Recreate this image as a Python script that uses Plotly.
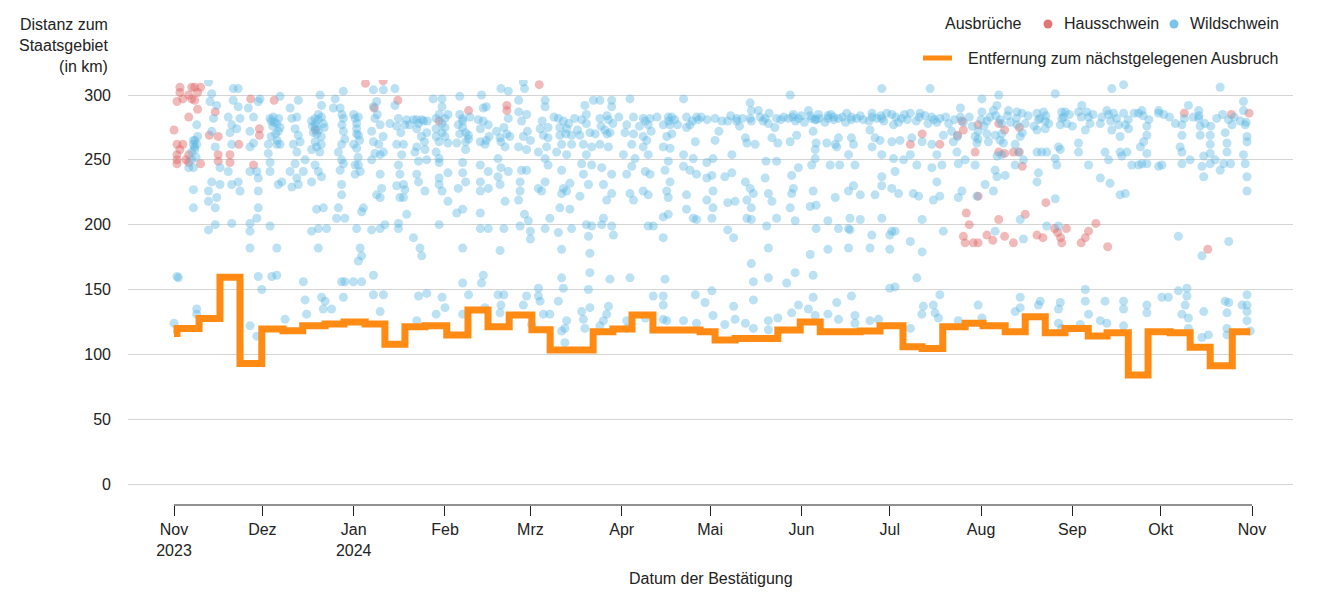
import pandas as pd
import plotly.graph_objects as go

START = pd.Timestamp("2023-11-01")

# x-axis ticks
tick_dates = ["2023-11-01", "2023-12-01", "2024-01-01", "2024-02-01", "2024-03-01", "2024-04-01",
              "2024-05-01", "2024-06-01", "2024-07-01", "2024-08-01", "2024-09-01", "2024-10-01", "2024-11-01"]
tick_text = ["Nov<br>2023", "Dez", "Jan<br>2024", "Feb", "Mrz", "Apr", "Mai", "Jun", "Jul", "Aug", "Sep", "Okt", "Nov"]
y_ticks = [0, 50, 100, 150, 200, 250, 300]

# distance to nearest outbreak (step line); days after 2023-11-01, km
line_day = [0, 1, 8.5, 15.6, 22.4, 29.8, 37, 43.7, 51.3, 57.7, 64.9, 71.6, 78.4, 85.2, 92.6, 99.8, 106.6,
            113.8, 121.5, 127.7, 142.3, 149, 155.5, 162.6, 178.6, 183.7, 190.5, 205, 212.6, 219.4, 233,
            239.7, 247.5, 254, 261, 268.6, 274.7, 282.2, 289, 295.8, 302.5, 310.4, 316.8, 324, 330.7,
            338.2, 345, 351.8, 359.3, 365.4]
line_km = [116, 120, 127.7, 159.4, 93, 119.5, 118.2, 122, 123.4, 125, 123.4, 107.7, 121.3, 122, 114.9,
           134.2, 121.3, 130.3, 119, 103.3, 117.4, 119.5, 130.3, 118.7, 117.4, 111, 112.3, 118.7, 125,
           117.4, 118, 122, 105.9, 104.6, 121.3, 123.9, 122, 117.4, 129, 116.7, 120, 114.1, 116.7, 84,
           117.4, 116.7, 105.4, 91.2, 117.4, 117.4]

# domestic pig outbreaks (day, km)
haus_points = [
    (2, 306), (6, 306), (7, 306), (9, 306), (1, 295), (3, 297), (6, 297), (7, 296), (5, 300), (2, 302), (8, 302),
    (5, 283), (8, 289), (14, 287), (0, 273), (12, 269), (15, 268), (29, 274), (29, 269), (1, 262), (3, 262),
    (22, 262), (1, 254), (5, 254), (15, 254), (19, 254), (1, 247), (5, 248), (9, 247), (15, 249), (19, 248),
    (27, 246), (1, 250), (2, 258), (4, 250), (26, 297), (34, 296), (65, 309), (71, 311), (76, 296), (68, 290),
    (48, 273), (90, 280), (100, 288), (113, 292), (113, 288), (124, 308),
    (254, 270), (250, 262), (260, 262), (266, 269), (268, 273), (273, 277), (272, 256), (267.5, 280),
    (269, 209), (270, 200), (268, 191), (268.6, 186), (271.4, 186), (273, 186), (276, 192), (273, 222),
    (280, 278), (282, 273), (287, 275), (280, 256), (282, 255), (285, 256), (287, 256), (288, 245),
    (343, 286), (359, 285), (365, 286),
    (278, 188), (282, 191), (285, 186), (280, 204), (289, 208), (296, 217), (293, 192), (295, 190),
    (299, 197), (300, 194), (301, 190), (301.4, 186), (303, 197), (308, 186), (309.4, 190), (310.5, 195),
    (313, 201), (317, 183), (351, 181),
]

# wild boar outbreaks (day, km), by period
wild_nov_jan = [
    (1, 160), (1.5, 159), (0, 124),
    (6.6, 262), (7.7, 262), (6, 256), (7.1, 265), (7.7, 277), (6.6, 227), (6.6, 213), (7.7, 135), (7.7, 131),
    (5, 244), (6.6, 244), (7, 260), (7, 258), (6.6, 265), (7.5, 252), (8, 268), (6, 250),
    (11.7, 310), (12.8, 301), (12.2, 295), (14.5, 292), (13.4, 282), (12.8, 272), (14, 260), (15.6, 244),
    (15.6, 231), (11.7, 226), (11.7, 218), (14, 213), (14.5, 221), (12.8, 233), (11.7, 196), (14, 200),
    (18.4, 283), (19.6, 277), (21.3, 274), (19.6, 262), (19, 271), (18.4, 241), (19.6, 231), (21.8, 233),
    (22.4, 226), (19.6, 201), (20.1, 305), (21.8, 305), (20.1, 296), (21.8, 291), (22.4, 282),
    (25.2, 290), (27, 283), (25.8, 272), (27, 263), (28.6, 295), (29.2, 297), (28.1, 241), (28.6, 236),
    (28.6, 226), (28.6, 213), (25.8, 201), (25.8, 195), (28.1, 205), (25.8, 182), (28.6, 160), (29.8, 150),
    (25.8, 122), (28.1, 114), (25.8, 241), (25.8, 260),
    (32.6, 282), (33.7, 283), (34.9, 278), (35.4, 272), (34.9, 262), (36, 262), (32, 262), (32.6, 248),
    (32.6, 241), (32, 255), (32.6, 199), (36, 299), (35.4, 231), (36.6, 233), (34.9, 182), (33.2, 160),
    (34.9, 161), (33, 280), (34, 279), (35, 265), (33.5, 276), (34.5, 270), (36, 275), (33, 268), (35.5, 282),
    (39.4, 290), (40, 282), (41.1, 274), (41.7, 283), (42.2, 296), (42.2, 269), (42.8, 264), (40.5, 262),
    (41.7, 256), (41.1, 247), (41.7, 236), (42.2, 231), (40, 229), (43.9, 241), (44.5, 250), (39.4, 241),
    (43.9, 156), (44.5, 142), (45, 131), (37.7, 127),
    (46.7, 280), (47.9, 282), (49, 281), (50.1, 283), (50.7, 278), (49, 273), (47.3, 271), (47.9, 264),
    (46.7, 258), (48.4, 260), (49.6, 300), (50.1, 292), (47.9, 246), (49, 241), (46.7, 233), (50.1, 237),
    (48.4, 212), (50.7, 213), (46.7, 195), (49, 197), (51.8, 197), (49, 182), (50.1, 144), (50.7, 135),
    (53.5, 135), (51.3, 141), (48, 278), (48, 275), (49, 285), (50, 268),
    (47, 276), (48.5, 270), (50, 262), (51, 275), (49.5, 256),
    (54.1, 290), (56.4, 290), (57.5, 282), (57.5, 272), (56.9, 262), (55.8, 256), (56.9, 250), (57.5, 247),
    (56.4, 242), (56.9, 231), (56.9, 223), (55.8, 213), (55.2, 205), (58, 205), (54.7, 297), (57.5, 303),
    (56.9, 156), (58, 156), (57.5, 144), (57, 285), (57, 277), (58, 266),
    (61.5, 282), (62.6, 283), (62, 274), (62.6, 269), (62, 259), (61.5, 246), (62.6, 246), (63.2, 241),
    (61.5, 239), (64.3, 213), (63.7, 210), (62, 197), (63.2, 182), (63.7, 176), (62.6, 172), (60.9, 156),
    (63.7, 156), (67.7, 161), (62, 278), (62, 270), (61, 285), (63, 265), (62.5, 252), (61, 262),
    (67.7, 291), (68.8, 295), (68.2, 282), (67.1, 272), (67.7, 264), (68.2, 255), (67.1, 250), (70, 254),
    (70, 239), (71.1, 256), (70.5, 228), (68.8, 223), (70, 221), (67.1, 196), (70, 197), (71.6, 200),
    (67.7, 146), (71.1, 146), (70, 133), (67.7, 304), (71.1, 304), (69, 285), (70, 277), (71, 268), (69.5, 262),
    (75, 305), (75, 292), (76.2, 282), (73.3, 278), (75.6, 276), (78.4, 277), (75.6, 262), (77.9, 262),
    (77.3, 254), (76.2, 246), (76.7, 239), (77.9, 231), (75.6, 230), (78.4, 227), (76.7, 221), (77.9, 221),
    (76.2, 201), (76.2, 197), (79, 208), (77, 271), (79, 281), (80, 277),
    (81.3, 281), (82.4, 281), (84.1, 281), (84.7, 280), (82.4, 274), (85.8, 271), (82.4, 260), (81.8, 256),
    (85.2, 258), (83, 249), (85.8, 250), (82.4, 239), (83, 233), (85.2, 226), (81.3, 190), (83.5, 182),
    (84.1, 176), (83, 145), (85.8, 147), (82.4, 126), (83, 278), (84, 268), (86, 280), (85, 264),
]

wild_feb_apr = [
    (88, 297), (91, 297), (91, 291), (89, 282), (92, 282), (89, 274), (91, 271), (90, 264), (93, 263), (89, 256),
    (90, 251), (90, 248), (93, 240), (90, 236), (90, 231), (91, 226), (93, 218), (90, 200), (91, 144), (92, 136),
    (89, 131), (90, 285), (91, 278), (92, 268), (89, 268), (92, 275), (93, 285),
    (97, 299), (98, 282), (96.5, 277), (98, 280), (99, 271), (99, 264), (96, 263), (98, 248), (98, 240),
    (99, 233), (96.5, 228), (96, 209), (98, 212), (98, 182), (98, 155), (100, 146), (98, 131), (100.5, 283),
    (100, 269), (97, 285), (98, 275), (100, 266), (97, 270), (99, 258),
    (104.4, 300), (105, 290), (106, 291), (103.3, 281), (106.7, 277), (104, 274), (107, 268), (104, 264),
    (105.6, 262), (104, 246), (106.7, 241), (104, 233), (104, 226), (106.7, 228), (104, 209), (104, 197),
    (106.7, 197), (105, 161), (104.4, 155), (105.6, 136), (105, 280), (106, 265),
    (111, 305), (113.5, 303), (109.5, 272), (110.7, 267), (111, 264), (114, 268), (112.4, 260), (110, 251),
    (111, 244), (110, 237), (113.5, 241), (110.7, 231), (112.4, 218), (112, 197), (110.7, 180), (110, 146),
    (112, 146), (111, 138), (110.7, 132), (113.5, 282), (112, 275), (113, 270),
    (118.6, 310), (119, 305), (117, 296), (117, 287), (119.7, 285), (118.6, 268), (117, 260), (119.7, 258),
    (118, 242), (119.7, 242), (117.5, 233), (117.5, 226), (117, 219), (119, 208), (117.5, 199), (120.3, 203),
    (121, 195), (121, 189), (119.7, 145), (118.6, 138), (121.4, 123), (118, 280), (120, 272), (121, 265),
    (126, 296), (126, 291), (124.3, 274), (125.4, 269), (127, 267), (126.5, 260), (123.7, 256), (126, 251),
    (127, 246), (123.7, 228), (124.8, 226), (126, 233), (126, 197), (127.6, 205), (123.7, 151), (124.3, 141),
    (125.4, 131), (127.6, 131), (123.7, 145), (125, 280), (127, 275),
    (130.5, 282), (132.2, 280), (133.3, 274), (131, 269), (135, 269), (131.6, 262), (135, 262), (129.9, 256),
    (133.3, 254), (131.6, 242), (132.2, 228), (131.6, 224), (133.3, 226), (134.4, 232), (131, 213), (134.4, 212),
    (130.5, 194), (135, 197), (131.6, 181), (131.6, 159), (132.2, 151), (130.5, 141), (132.7, 120), (133.3, 126),
    (132.7, 109), (131.6, 118), (131, 275), (133, 270), (129, 283), (134, 278), (136, 282),
    (139.5, 292), (142.4, 296), (138.4, 281), (140, 278), (137.8, 269), (141.2, 271), (139, 262), (141.8, 260),
    (140, 254), (138.4, 247), (141.8, 246), (139, 239), (140.7, 231), (137.8, 222), (140, 200), (141.8, 199),
    (140.7, 191), (141.2, 178), (141.2, 163), (140.7, 150), (141.2, 136), (139, 127), (139.5, 120), (138.4, 133),
    (137, 273), (140, 285), (143, 270),
    (144.6, 296), (148.6, 296), (148.6, 291), (144.6, 282), (147.5, 281), (146.3, 273), (148, 271), (144.6, 262),
    (147.5, 260), (145.2, 244), (148.6, 239), (145.8, 231), (148.6, 224), (146.9, 219), (145.8, 205), (148.6, 199),
    (149.2, 192), (145.2, 200), (148, 158), (147.5, 137), (146.9, 131), (145.8, 126), (144.6, 122), (145, 276),
    (147, 270), (147, 284), (149, 278),
    (154.8, 297), (156, 283), (153.7, 277), (153.1, 271), (155.4, 262), (152.6, 254), (156.5, 251), (155.4, 245),
    (153.7, 239), (154.8, 224), (156, 219), (154.8, 159), (153.7, 126), (153.7, 120), (151, 283), (156, 270),
    (158, 276),
    (159.3, 282), (161.6, 282), (161, 277), (159.3, 268), (160.5, 265), (159.3, 260), (161, 254), (160, 241),
    (161.6, 239), (159.3, 226), (161, 223), (161, 199), (162.7, 199), (160, 128), (162.7, 145), (160, 280),
    (162, 272), (164, 283),
    (167.8, 283), (169, 283), (166.1, 277), (168.4, 277), (167.3, 268), (166.1, 260), (168.4, 259), (167.8, 249),
    (166.7, 242), (168.4, 233), (167.3, 226), (167.8, 221), (166.1, 206), (167.8, 208), (166.1, 190), (166.7, 158),
    (166.1, 145), (166.1, 138), (167.3, 126), (166.1, 127), (168, 280), (170, 281), (169, 270), (171, 277),
    (173, 297), (174, 283), (177.4, 283), (175.2, 277), (177, 264), (173, 254), (176.3, 251), (173, 245),
    (175.2, 242), (180.9, 248), (177.4, 239), (180.9, 236), (174, 223), (180.9, 219), (174, 212), (176.3, 205),
    (177.4, 204), (177, 146), (180.3, 140), (173, 126), (177.4, 124), (176, 280), (178, 281), (174, 275),
    (179, 283), (181, 281),
]

wild_may_jul = [
    (183.7, 282), (183.7, 265), (183, 251), (182.6, 238), (183, 226), (183, 213), (182.6, 205), (182.6, 149),
    (183, 130), (185, 272), (186, 280),
    (188, 280), (191, 282), (187, 237), (189.4, 240), (188, 217), (190.5, 218), (188, 196), (190, 190),
    (190, 137), (190.5, 127), (187, 123), (189.4, 254), (191, 280), (189, 284), (192, 276), (193, 282),
    (194, 267), (194.5, 263), (195.6, 282), (195.6, 294), (196, 288), (197.3, 262), (194, 233), (195.6, 228),
    (196.7, 224), (194.5, 219), (196, 213), (194.5, 205), (196, 204), (196, 170), (196.7, 156), (196.7, 142),
    (196.7, 120), (194, 124), (198.4, 288), (196, 280), (199, 283),
    (200.7, 282), (201.8, 278), (203, 267), (205, 263), (201, 249), (204.6, 249), (200.7, 236), (201.8, 224),
    (203, 218), (204.6, 205), (201.2, 199), (201.8, 182), (201.8, 159), (205, 128), (201.8, 126), (201.8, 119),
    (204.6, 282), (200, 280), (202, 286), (204, 275), (206, 281), (207, 283),
    (208.6, 282), (210.3, 285), (212, 282), (209.2, 264), (211.4, 269), (209.7, 238), (210.3, 228), (209.7, 224),
    (209.2, 213), (210.9, 203), (209.2, 300), (210.9, 163), (208, 155), (209.7, 132), (212, 138), (212, 244),
    (210, 283), (211, 280), (213, 284), (214, 279),
    (215.4, 288), (216.5, 282), (217.7, 281), (218.8, 285), (217, 272), (218, 263), (217.7, 258), (216.5, 246),
    (217.7, 251), (217, 226), (216, 214), (218, 215), (218, 197), (216, 177), (217, 161), (217, 144),
    (215.4, 135), (217.7, 130), (216, 284), (218, 281), (219, 282), (221, 279),
    (222, 282), (224, 283), (225.6, 282), (221.6, 263), (224.5, 262), (225.6, 267), (225, 260), (222.8, 246),
    (226, 246), (224.5, 221), (222, 203), (225.6, 197), (222, 181), (225, 140), (222, 131), (225.6, 127),
    (222, 284), (224, 281), (223, 285), (227, 283),
    (228.4, 286), (230, 283), (231.8, 282), (230, 267), (230.7, 262), (229, 254), (231.2, 246), (229, 226),
    (230.7, 230), (233, 223), (229.5, 205), (233, 204), (229, 197), (229.5, 196), (229, 182), (230, 145),
    (231.2, 130), (231.2, 124), (230, 281), (228, 279), (233, 284), (234, 281),
    (237, 286), (238.6, 282), (240.3, 282), (236.3, 273), (238, 267), (239.7, 265), (237, 260), (240.3, 254),
    (240.3, 237), (238, 223), (240.3, 230), (240.3, 205), (236.9, 192), (243, 192), (243, 181), (236.3, 182),
    (239.2, 127), (236.3, 126), (240.3, 305), (237, 283), (240, 284), (236, 280), (241, 280), (242, 286),
    (243.7, 285), (244.3, 277), (247, 282), (243.7, 264), (246.5, 265), (244.3, 251), (247.7, 250), (244.8, 241),
    (243.7, 228), (246, 224), (243.7, 195), (244.8, 195), (243, 151), (244.8, 152), (245, 283), (246, 279),
    (248, 285), (249, 281),
    (250, 286), (253.3, 286), (250.5, 267), (254, 264), (250, 254), (252.2, 246), (251, 224), (252.8, 222),
    (254, 204), (250, 187), (254, 179), (252.2, 159), (254.4, 137), (253.9, 131), (250, 120), (253, 283),
    (252, 280), (255, 284), (256, 278),
    (257.3, 283), (260, 282), (261.2, 269), (257.3, 262), (259, 254), (260.7, 246), (257.3, 244), (259, 233),
    (257.8, 219), (260, 222), (261.2, 195), (256.7, 305), (257.8, 138), (260, 146), (258.4, 132), (259.5, 128),
    (258, 281), (259, 279), (262, 283), (263, 278),
    (264, 272), (264.6, 264), (267, 290), (267, 283), (265.8, 256), (266.3, 247), (268.6, 250), (267.5, 226),
    (266.3, 221), (272, 268), (272.6, 263), (274.3, 287), (274.3, 297), (275.4, 231), (272, 246), (272.6, 222),
    (273, 138), (266.3, 126), (274.3, 128), (276, 280), (276.5, 264), (273, 272), (273, 266), (276, 270),
    (266, 268), (265, 281), (268, 279), (270, 283), (271, 276), (274, 281), (275, 276), (277, 283),
]

wild_aug_oct = [
    (278.2, 288), (279.4, 292), (280, 300), (280.5, 281), (281, 278), (278.8, 269), (280.5, 265), (281.6, 263),
    (279.4, 253), (281, 254), (278.8, 242), (279.4, 237), (282.2, 238), (278.2, 226), (278.8, 195),
    (279, 284), (281, 270),
    (283.3, 288), (286.2, 287), (287.9, 286), (286.2, 277), (287.3, 268), (285.6, 262), (286.7, 256),
    (285.6, 246), (289, 278), (288.4, 250), (287.3, 204), (288.4, 189), (287.3, 144), (285.6, 133), (287.3, 136),
    (283, 284), (284, 279), (286, 282), (288, 271), (290, 284),
    (293, 286), (295.2, 287), (293.5, 281), (295.8, 280), (293, 273), (295.8, 274), (293, 256), (294.6, 256),
    (296.3, 256), (293.5, 240), (293, 233), (294.1, 141), (293.5, 138), (296.3, 199), (299.2, 220), (299.2, 301),
    (292, 276), (294, 282), (296, 284), (297, 278),
    (300.3, 260), (300.9, 258), (301.4, 287), (302.6, 287), (301.4, 282), (303.1, 278), (300.9, 277),
    (299.2, 251), (299.7, 246), (300.3, 199), (300.9, 140), (300.3, 135), (300.3, 124), (301.4, 120),
    (302, 283), (304, 285), (305, 276),
    (307.1, 287), (308.2, 292), (309.9, 287), (310.5, 283), (309.4, 273), (307.1, 263), (307.1, 256),
    (310.5, 246), (309.4, 150), (309.4, 141), (310.5, 131), (307.7, 123), (314.5, 278), (314.5, 236), (317.8, 232),
    (308, 283), (311, 278), (312, 285), (315, 283),
    (316.7, 288), (317.3, 285), (318.4, 273), (316.1, 256), (317.3, 250), (316.1, 141), (314.5, 126),
    (316.7, 124), (318.4, 305), (322.4, 308), (320.7, 277), (321.2, 268), (322.4, 286), (323, 277), (324.1, 274),
    (321.2, 256), (321.8, 253), (323.5, 256), (325.2, 246), (321.2, 223), (323, 224), (322.4, 141), (322.4, 135),
    (322.4, 122), (318, 280), (319, 286), (320, 282), (324, 281), (326, 286),
    (327.5, 286), (328.6, 288), (330.3, 276), (330.3, 269), (329.2, 264), (328.1, 260), (330.3, 255),
    (328.6, 247), (330.3, 247), (327.5, 246), (330.3, 138), (330.3, 132), (329, 284), (331, 281),
    (334.3, 288), (334.3, 286), (335.4, 246), (334.3, 245), (335.4, 144), (337.6, 144), (341, 191), (342.2, 277),
    (342.2, 269), (341.6, 260), (342.2, 256), (342.2, 247), (345, 250), (344.4, 292), (341, 149), (343.9, 151),
    (343.9, 145), (343.3, 138), (342.2, 131), (344.4, 128), (344.4, 120), (336, 285), (338, 283), (340, 278),
    (343, 282),
    (347.9, 288), (347.9, 282), (348.4, 276), (348.4, 269), (349.6, 253), (349, 245), (349.6, 237), (349, 176),
    (349.6, 133), (349, 113), (351.2, 115), (346, 283), (348, 284), (350, 278),
    (351.8, 269), (351.8, 262), (351.8, 255), (351.8, 247), (353.5, 250), (355.2, 242), (355.2, 306),
    (356.9, 271), (357.5, 263), (357.5, 256), (356.4, 247), (358.7, 247), (358.1, 187), (356.9, 141),
    (358.1, 140), (357.5, 132), (357.5, 120), (357.5, 115), (352, 276), (354, 282), (356, 285), (358, 281),
    (363.1, 295), (363.1, 288), (364.3, 268), (363.7, 277), (364.3, 264), (363.1, 254), (363.7, 247),
    (364.3, 237), (364.3, 226), (359.2, 277), (364.3, 146), (364.3, 138), (362.6, 138), (364.3, 133),
    (364.3, 126), (365.4, 118), (360, 283), (362, 280), (364, 279),
]


def to_dates(days):
    return [START + pd.Timedelta(days=float(d)) for d in days]


wild_points = wild_nov_jan + wild_feb_apr + wild_may_jul + wild_aug_oct

FONT = "Arial, 'Liberation Sans', sans-serif"
TXT = "#222222"
RED = "rgba(224,102,102,0.45)"
BLUE = "rgba(94,184,226,0.42)"
ORANGE = "#ff8a14"

fig = go.Figure()
fig.add_trace(go.Scatter(
    x=to_dates([p[0] for p in haus_points]), y=[p[1] for p in haus_points],
    mode="markers", marker=dict(size=9, color=RED, line=dict(width=0)),
    name="Hausschwein", showlegend=False, hoverinfo="skip"))
fig.add_trace(go.Scatter(
    x=to_dates([p[0] for p in wild_points]), y=[p[1] for p in wild_points],
    mode="markers", marker=dict(size=9, color=BLUE, line=dict(width=0)),
    name="Wildschwein", showlegend=False, hoverinfo="skip"))
fig.add_trace(go.Scatter(
    x=to_dates(line_day), y=line_km, mode="lines",
    line=dict(shape="hv", color=ORANGE, width=7),
    name="Entfernung zum nächstgelegenen Ausbruch", showlegend=False, hoverinfo="skip"))

# page has an 8px body margin; figure placed so the plot area sits at page x 128..1293, y 80..505
OFF = 8
W, H = 1317, 584
L, T = 128 - OFF, 80 - OFF
R = W - (1293 - OFF)
B = H - (505 - OFF)
PW, PH = W - L - R, H - T - B


def px_x(p):
    return (p - OFF - L) / PW


def px_y(p):
    return (H - B - (p - OFF)) / PH


annotations = [
    dict(text="Distanz zum<br>Staatsgebiet<br>(in km)", x=px_x(111), y=px_y(45), xref="paper", yref="paper",
         xanchor="right", yanchor="middle", align="right", showarrow=False, font=dict(size=16, color=TXT)),
    dict(text="Datum der Bestätigung", x=0.5, y=px_y(578), xref="paper", yref="paper",
         xanchor="center", yanchor="middle", showarrow=False, font=dict(size=16, color=TXT)),
    dict(text="Ausbrüche", x=px_x(943), y=px_y(23), xref="paper", yref="paper",
         xanchor="left", yanchor="middle", showarrow=False, font=dict(size=16, color=TXT)),
    dict(text="Hausschwein", x=px_x(1062), y=px_y(24), xref="paper", yref="paper",
         xanchor="left", yanchor="middle", showarrow=False, font=dict(size=16, color=TXT)),
    dict(text="Wildschwein", x=px_x(1188), y=px_y(24), xref="paper", yref="paper",
         xanchor="left", yanchor="middle", showarrow=False, font=dict(size=16, color=TXT)),
    dict(text="Entfernung zum nächstgelegenen Ausbruch", x=px_x(966), y=px_y(58), xref="paper", yref="paper",
         xanchor="left", yanchor="middle", showarrow=False, font=dict(size=16, color=TXT)),
]

shapes = [
    dict(type="line", xref="x", yref="paper", x0=tick_dates[0], x1=tick_dates[-1], y0=0, y1=0,
         line=dict(color=TXT, width=1)),
    dict(type="circle", xref="paper", yref="paper", xsizemode="pixel", ysizemode="pixel",
         xanchor=px_x(1048), yanchor=px_y(24), x0=-4.5, x1=4.5, y0=-4.5, y1=4.5,
         fillcolor="rgb(226,118,118)", line=dict(width=0)),
    dict(type="circle", xref="paper", yref="paper", xsizemode="pixel", ysizemode="pixel",
         xanchor=px_x(1174), yanchor=px_y(24), x0=-4.5, x1=4.5, y0=-4.5, y1=4.5,
         fillcolor="rgb(122,196,230)", line=dict(width=0)),
    dict(type="line", xref="paper", yref="paper", x0=px_x(923), x1=px_x(952), y0=px_y(58), y1=px_y(58),
         line=dict(color=ORANGE, width=5)),
]

fig.update_layout(
    width=W, height=H, margin=dict(l=L, r=R, t=T, b=B),
    paper_bgcolor="white", plot_bgcolor="white",
    font=dict(family=FONT, size=16, color=TXT),
    showlegend=False,
    annotations=annotations, shapes=shapes,
    xaxis=dict(type="date", range=["2023-10-16 09:00", "2024-11-14 22:00"],
               tickmode="array", tickvals=tick_dates, ticktext=tick_text,
               ticks="outside", ticklen=10, tickwidth=1, tickcolor=TXT,
               showgrid=False, zeroline=False, showline=False,
               tickfont=dict(size=16, color=TXT)),
    yaxis=dict(range=[-16.2, 311.6], tickmode="array", tickvals=y_ticks,
               showgrid=True, gridcolor="#d4d4d4", gridwidth=1,
               zeroline=False, showline=False, ticks="", ticklabelstandoff=16,
               tickfont=dict(size=16, color=TXT)),
)

fig.write_html("out.html")
